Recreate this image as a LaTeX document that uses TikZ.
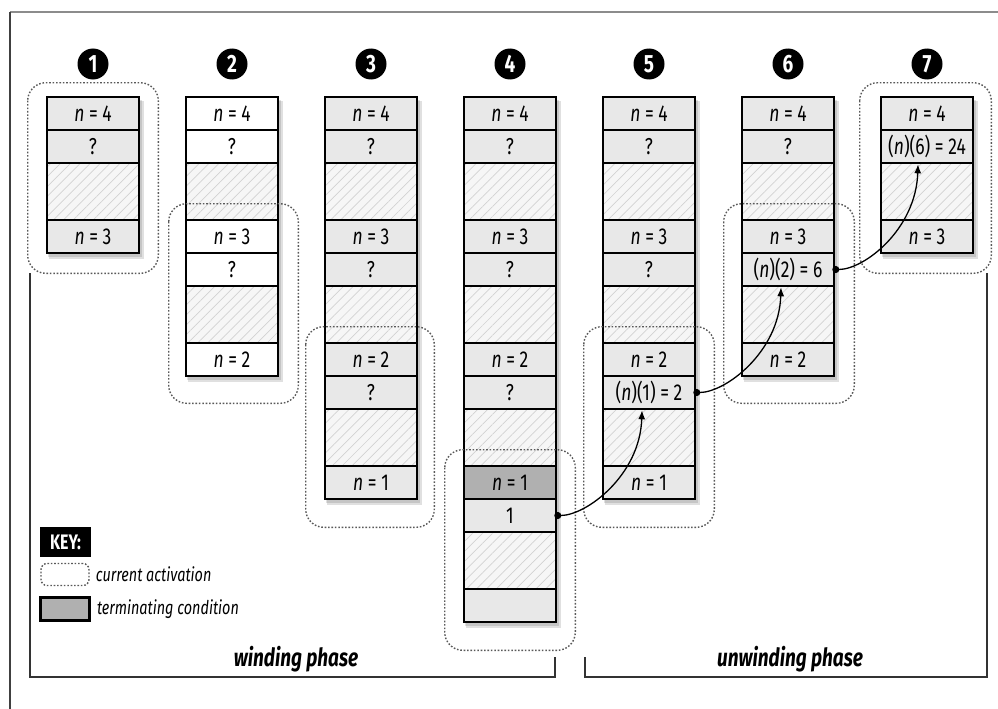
\documentclass[tikz,border=0pt]{standalone}
\usepackage{fontspec}
\setmainfont{Fira Sans}[FakeStretch=0.76]
\usetikzlibrary{positioning,patterns.meta,arrows.meta}
\pgfdeclarelayer{background}
\pgfdeclarelayer{foreground}
\pgfsetlayers{background,main,foreground}
\definecolor{cellgray}{HTML}{E8E8E8}
\definecolor{termgray}{HTML}{B0B0B0}
\definecolor{hatchgray}{HTML}{D2D2D2}
\definecolor{hatchbg}{HTML}{F6F6F6}
\tikzset{
  cell/.style={draw, line width=2.6pt, fill=cellgray, minimum width=92pt, minimum height=33pt, inner sep=0pt, font=\fontsize{23}{24}\selectfont},
  hatch/.style={minimum height=57pt, fill=none, preaction={fill=hatchbg}, pattern={Lines[angle=45,distance=7pt,line width=0.7pt]}, pattern color=hatchgray},
  act/.style={draw=black!65, line width=1.4pt, dash pattern=on 1.6pt off 1.8pt, rounded corners=18pt},
  num/.style={circle, fill=black, text=white, minimum size=31pt, inner sep=0pt, font=\bfseries\fontsize{25}{25}\selectfont},
  ret/.style={line width=1.3pt, arrows={Circle[length=7pt]-Latex[length=9pt,width=7pt]}},
  bracket/.style={draw=black!80, line width=2.6pt},
  phase/.style={font=\bfseries\itshape\fontsize{25}{26}\selectfont},
  keytext/.style={inner sep=0pt, font=\itshape\fontsize{19}{20}\selectfont},
  keyhead/.style={fill=black, text=white, minimum width=51pt, minimum height=30pt, inner sep=0pt, font=\bfseries\fontsize{21}{22}\selectfont},
  shade/.style={fill=black, opacity=0.12}
}
\begin{document}
\begin{tikzpicture}[x=1pt,y=-1pt]
\useasboundingbox (0,0) rectangle (998,709);
\draw[black!45, line width=2pt] (10,12.5) -- (998,12.5);
\draw[black!75, line width=1.2pt] (10,12) -- (10,709);

% step numbers
\foreach \k/\x in {1/93,2/232,3/371,4/510,5/649,6/788,7/927}
  \node[num] (num\k) at (\x,64) {\k};

% full frames of each stack
\foreach \k/\x/\nf/\cf in {1/93/1/cellgray,2/232/2/white,3/371/3/cellgray,4/510/3/cellgray,5/649/2/cellgray,6/788/1/cellgray} {
  \foreach \f in {1,...,\nf} {
    \pgfmathsetmacro\ftop{97+123*(\f-1)}
    \pgfmathtruncatemacro\nval{5-\f}
    \node[cell,fill=\cf] (c\k-\f-a) at (\x,\ftop+16.5) {\textit{n} = \nval};
    \node[cell,fill=\cf] (c\k-\f-b) at (\x,\ftop+49.5) {?};
    \node[cell,hatch] (c\k-\f-h) at (\x,\ftop+94.5) {};
  }
}

% last rows
\node[cell] (c1-2-a) at (93,236.5) {\textit{n} = 3};
\node[cell,fill=white] (c2-3-a) at (232,359.5) {\textit{n} = 2};
\node[cell] (c3-4-a) at (371,482.5) {\textit{n} = 1};
% terminating frame
\node[cell,fill=termgray] (c4-4-a) at (510,482.5) {\textit{n} = 1};
\node[cell] (c4-4-b) at (510,515.5) {1};
\node[cell,hatch] (c4-4-h) at (510,560.5) {};
\node[cell] (c4-5-a) at (510,605.5) {};
% unwinding
\node[cell] (c5-3-a) at (649,359.5) {\textit{n} = 2};
\node[cell] (c5-3-b) at (649,392.5) {(\textit{n})(1) = 2};
\node[cell,hatch] (c5-3-h) at (649,437.5) {};
\node[cell] (c5-4-a) at (649,482.5) {\textit{n} = 1};
\node[cell] (c6-2-a) at (788,236.5) {\textit{n} = 3};
\node[cell] (c6-2-b) at (788,269.5) {(\textit{n})(2) = 6};
\node[cell,hatch] (c6-2-h) at (788,314.5) {};
\node[cell] (c6-3-a) at (788,359.5) {\textit{n} = 2};
\node[cell] (c7-1-a) at (927,113.5) {\textit{n} = 4};
\node[cell] (c7-1-b) at (927,146.5) {(\textit{n})(6) = 24};
\node[cell,hatch] (c7-1-h) at (927,191.5) {};
\node[cell] (c7-2-a) at (927,236.5) {\textit{n} = 3};

\begin{pgfonlayer}{background}
\foreach \x/\bot in {93/253,232/376,371/499,510/622,649/499,788/376,927/253} {
  \fill[shade] (\x-44,101) rectangle (\x+51,\bot+6);
  \fill[shade] (\x-45,100) rectangle (\x+49,\bot+4);
}
\end{pgfonlayer}

\begin{pgfonlayer}{foreground}
% current activations
\draw[act] ([shift={(-18,-13)}]c1-1-a.north west) rectangle ([shift={(18,19)}]c1-2-a.south east);
\draw[act] ([shift={(-16,-15)}]c2-2-a.north west) rectangle ([shift={(19,26)}]c2-3-a.south east);
\draw[act] ([shift={(-18,-15)}]c3-3-a.north west) rectangle ([shift={(16,27)}]c3-4-a.south east);
\draw[act] ([shift={(-18,-15)}]c4-4-a.north west) rectangle ([shift={(18,27)}]c4-5-a.south east);
\draw[act] ([shift={(-18,-15)}]c5-3-a.north west) rectangle ([shift={(18,27)}]c5-4-a.south east);
\draw[act] ([shift={(-17,-15)}]c6-2-a.north west) rectangle ([shift={(19,26)}]c6-3-a.south east);
\draw[act] ([shift={(-20,-13)}]c7-1-a.north west) rectangle ([shift={(17,19)}]c7-2-a.south east);
% returned values
\draw[ret] ([xshift=-3]c4-4-b.east) .. controls +(32,0) and +(-2,65) .. ([xshift=-7]c5-3-b.south);
\draw[ret] ([xshift=-3]c5-3-b.east) .. controls +(32,0) and +(-2,65) .. ([xshift=-7]c6-2-b.south);
\draw[ret] ([xshift=-3]c6-2-b.east) .. controls +(32,0) and +(-2,65) .. ([xshift=-9]c7-1-b.south);
\end{pgfonlayer}

% key
\node[keyhead] (key) at (65.5,542) {KEY:};
\node[act, rounded corners=6pt, minimum width=48pt, minimum height=22pt] (keyact) at (65,574.5) {};
\node[keytext, right=6pt of keyact] (keyacttext) {current activation};
\node[cell, fill=termgray, minimum width=49pt, minimum height=23pt] (keyterm) at (65,609) {};
\node[keytext, right=6pt of keyterm] (keytermtext) {terminating condition};

% phases
\draw[bracket] (30,273) -- (30,677) -- (555,677) -- (555,657);
\draw[bracket] (585,657) -- (585,677) -- (987,677) -- (987,273);
\node[phase] (wind) at (296,659) {winding phase};
\node[phase] (unwind) at (790,659) {unwinding phase};
\end{tikzpicture}
\end{document}
